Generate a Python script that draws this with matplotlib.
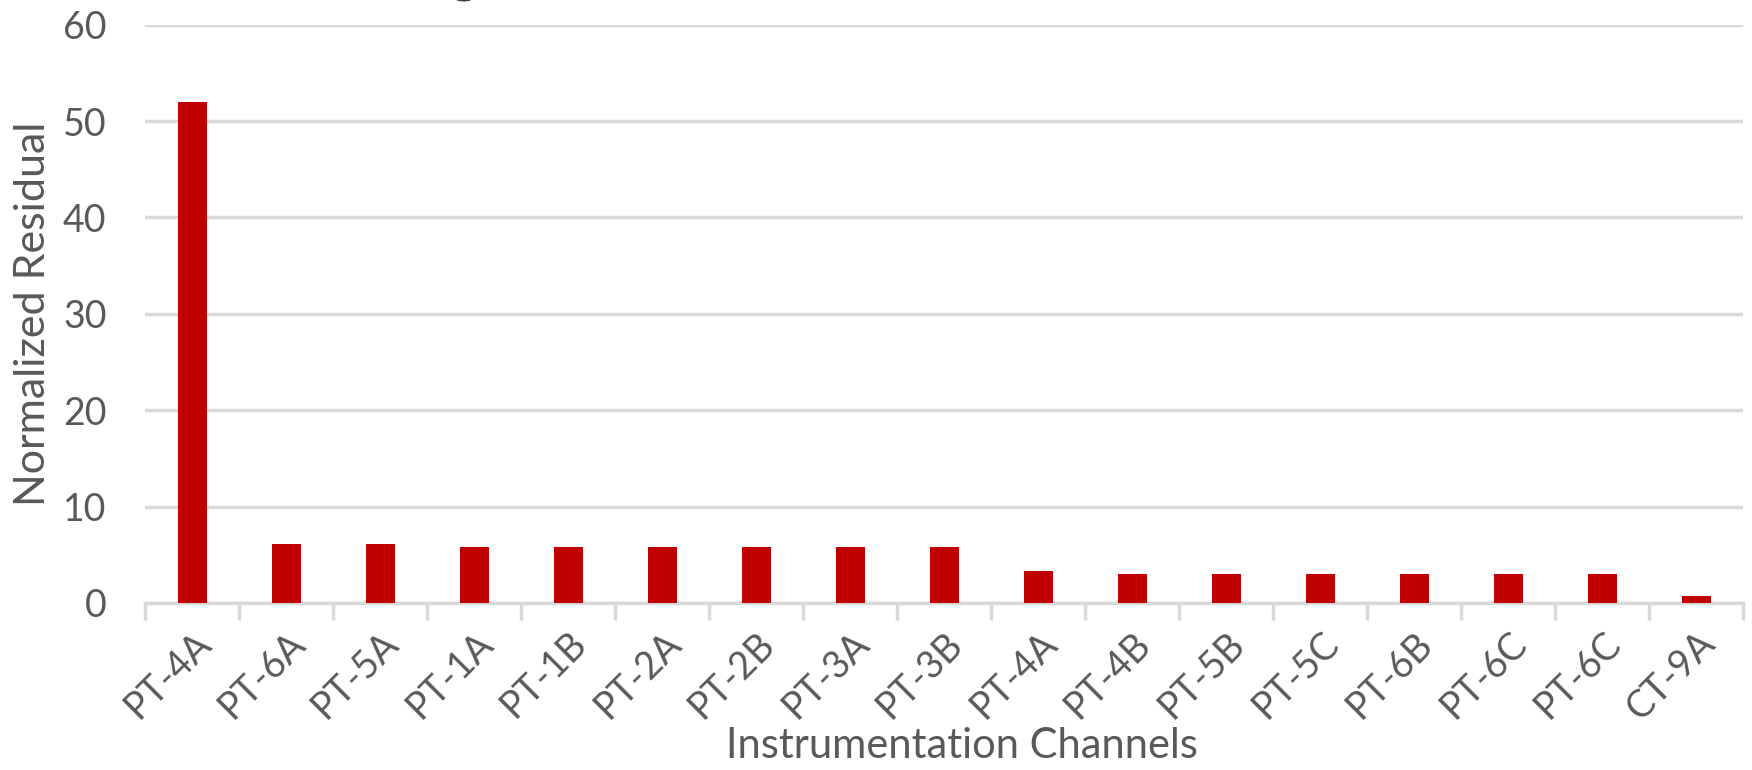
import matplotlib
matplotlib.use("Agg")
import matplotlib.pyplot as plt
import numpy as np

channels = ["PT-4A", "PT-6A", "PT-5A", "PT-1A", "PT-1B", "PT-2A", "PT-2B",
            "PT-3A", "PT-3B", "PT-4A", "PT-4B", "PT-5B", "PT-5C", "PT-6B",
            "PT-6C", "PT-6C", "CT-9A"]
residuals = [52.0, 6.1, 6.1, 5.8, 5.8, 5.8, 5.8, 5.8, 5.8,
             3.3, 3.0, 3.0, 3.0, 3.0, 3.0, 3.0, 0.7]
y_ticks = [0, 10, 20, 30, 40, 50, 60]

TEXT = "#595959"
GRID = "#D9D9D9"
BAR = "#C00000"

plt.rcParams["font.family"] = ["Lato", "DejaVu Sans"]

fig = plt.figure(figsize=(17.52, 7.70), dpi=100)
ax = fig.add_axes([0.083, 0.217, 0.912, 0.751])

x = np.arange(len(channels))
ax.bar(x, residuals, width=0.31, color=BAR, zorder=3)

ax.set_xlim(-0.5, len(channels) - 0.5)
ax.set_ylim(0, 60)
ax.set_yticks(y_ticks)
ax.yaxis.grid(True, color=GRID, linewidth=2.5, zorder=0)
ax.tick_params(axis="y", length=0, pad=28, labelsize=27, labelcolor=TEXT)

# category labels centred under bars, tick marks on category boundaries
ax.set_xticks(x)
ax.set_xticklabels(channels, rotation=45, ha="right", rotation_mode="anchor",
                   fontsize=27, color=TEXT)
ax.tick_params(axis="x", which="major", length=0, pad=16)
ax.set_xticks(np.arange(-0.5, len(channels)), minor=True)
ax.tick_params(axis="x", which="minor", length=12, width=2.5, color=GRID)

for side in ("top", "right", "left"):
    ax.spines[side].set_visible(False)
ax.spines["bottom"].set_color(GRID)
ax.spines["bottom"].set_linewidth(2.5)

ax.set_ylabel("Normalized Residual", fontsize=31, color=TEXT, labelpad=8)
ax.set_xlabel("Instrumentation Channels", fontsize=30, color=TEXT, labelpad=0)
ax.xaxis.label.set_x(0.511)

# chart title sits above the canvas; only its lowest stroke reaches the top edge
fig.text(0.265, 1 - 1 / 770, "g", fontsize=40, fontweight="bold",
         color="#404040", ha="center", va="bottom")

fig.savefig("out.png", dpi=100, facecolor="white")
